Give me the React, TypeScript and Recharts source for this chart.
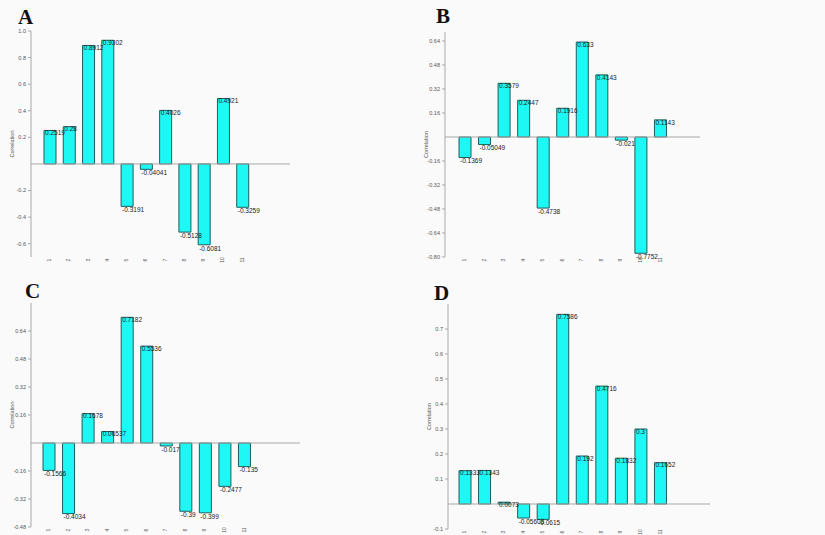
import React from 'react';
import { BarChart, Bar, XAxis, YAxis, ReferenceLine, LabelList } from 'recharts';

const categories = ['1', '2', '3', '4', '5', '6', '7', '8', '9', '10', '11'];

const valuesA = [0.2519, 0.28, 0.8912, 0.9302, -0.3191, -0.04041, 0.4026, -0.5128, -0.6081, 0.4921, -0.3259];
const valuesB = [-0.1369, -0.05049, 0.3579, 0.2447, -0.4738, 0.1916, 0.633, 0.4143, -0.021, -0.7752, 0.1143];
const valuesC = [-0.1566, -0.4034, 0.1678, 0.06537, 0.7182, 0.5536, -0.017, -0.39, -0.399, -0.2477, -0.135];
const valuesD = [0.1333, 0.1343, 0.0073, -0.05608, -0.0615, 0.7586, 0.192, 0.4716, 0.1832, 0.3, 0.1652];

const ticksA = [1.0, 0.8, 0.6, 0.4, 0.2, -0.2, -0.4, -0.6];
const ticksB = [0.64, 0.48, 0.32, 0.16, -0.16, -0.32, -0.48, -0.64, -0.8];
const ticksC = [0.64, 0.48, 0.32, 0.16, -0.16, -0.32, -0.48];
const ticksD = [0.7, 0.6, 0.5, 0.4, 0.3, 0.2, 0.1, -0.1];

const BAR_FILL = '#1ef8f4';
const BAR_STROKE = '#1f5e5c';
const AXIS = '#a8a8a8';

const ValueLabel = (props: any) => {
  const { x, y, height, value } = props;
  const top = Math.min(y, y + height);
  const bottom = Math.max(y, y + height);
  const ty = value >= 0 ? top + 3 : bottom + 4;
  return (
    <text x={x + 1} y={ty} fontSize={6.5} fill="#222" dominantBaseline="middle" fontFamily="Liberation Sans, Arial">
      {String(value)}
    </text>
  );
};

const RotTick = (props: any) => {
  const { x, y, payload } = props;
  return (
    <text
      x={x}
      y={y + 2}
      fontSize={5}
      fill="#555"
      textAnchor="middle"
      dominantBaseline="middle"
      transform={`rotate(-90 ${x} ${y + 2})`}
      fontFamily="Liberation Sans, Arial"
    >
      {payload.value}
    </text>
  );
};

type PanelProps = {
  letter: string;
  letterPos: [number, number];
  left: number;
  top: number;
  width: number;
  height: number;
  marginTop: number;
  values: number[];
  ticks: number[];
  domain: [number, number];
  digits: number;
  padL: number;
  padR: number;
};

function Panel(p: PanelProps) {
  const data = categories.map((c, i) => ({ name: c, value: p.values[i] }));
  return (
    <>
      <div
        style={{
          position: 'absolute',
          left: p.letterPos[0],
          top: p.letterPos[1],
          fontFamily: 'Liberation Serif, Times New Roman, serif',
          fontWeight: 'bold',
          fontSize: 21,
          lineHeight: '21px',
          color: '#111',
        }}
      >
        {p.letter}
      </div>
      <div style={{ position: 'absolute', left: p.left, top: p.top }}>
        <BarChart
          width={p.width}
          height={p.height + 6}
          data={data}
          margin={{ top: p.marginTop, right: 10, left: 0, bottom: 0 }}
          barSize={12}
        >
          <XAxis
            dataKey="name"
            axisLine={false}
            tickLine={false}
            tickSize={1}
            tickMargin={0}
            height={18}
            interval={0}
            padding={{ left: p.padL, right: p.padR }}
            tick={<RotTick />}
          />
          <YAxis
            width={31}
            type="number"
            domain={p.domain}
            ticks={p.ticks}
            interval={0}
            allowDataOverflow
            stroke={AXIS}
            tickSize={3}
            tick={{ fontSize: 5.5, fill: '#555', fontFamily: 'Liberation Sans, Arial' }}
            tickFormatter={(v: number) => v.toFixed(p.digits)}
            label={{
              value: 'Correlation',
              angle: -90,
              position: 'insideLeft',
              offset: 12,
              style: { fontSize: 5.5, fill: '#555', fontFamily: 'Liberation Sans, Arial', textAnchor: 'middle' },
            }}
          />
          <ReferenceLine y={0} stroke={AXIS} strokeWidth={1} />
          <Bar dataKey="value" fill={BAR_FILL} stroke={BAR_STROKE} strokeWidth={1} isAnimationActive={false}>
            <LabelList dataKey="value" content={<ValueLabel />} />
          </Bar>
        </BarChart>
      </div>
    </>
  );
}

export default function App() {
  return (
    <div
      style={{
        position: 'absolute',
        left: 0,
        top: 0,
        width: 825,
        height: 535,
        background: '#fafafa',
        overflow: 'hidden',
      }}
    >
      <Panel letter="A" letterPos={[18, 7]} left={0} top={0} width={300} height={269} marginTop={31}
        values={valuesA} ticks={ticksA} domain={[-0.7, 1.0]} digits={1} padL={9} padR={38} />
      <Panel letter="B" letterPos={[436, 6]} left={414} top={0} width={296} height={269} marginTop={32}
        values={valuesB} ticks={ticksB} domain={[-0.8, 0.7]} digits={2} padL={10} padR={30} />
      <Panel letter="C" letterPos={[25, 281]} left={0} top={270} width={310} height={269} marginTop={33}
        values={valuesC} ticks={ticksC} domain={[-0.48, 0.8]} digits={2} padL={8} padR={46} />
      <Panel letter="D" letterPos={[434, 283]} left={417} top={270} width={303} height={271} marginTop={34}
        values={valuesD} ticks={ticksD} domain={[-0.1, 0.8]} digits={1} padL={7} padR={40} />
    </div>
  );
}
